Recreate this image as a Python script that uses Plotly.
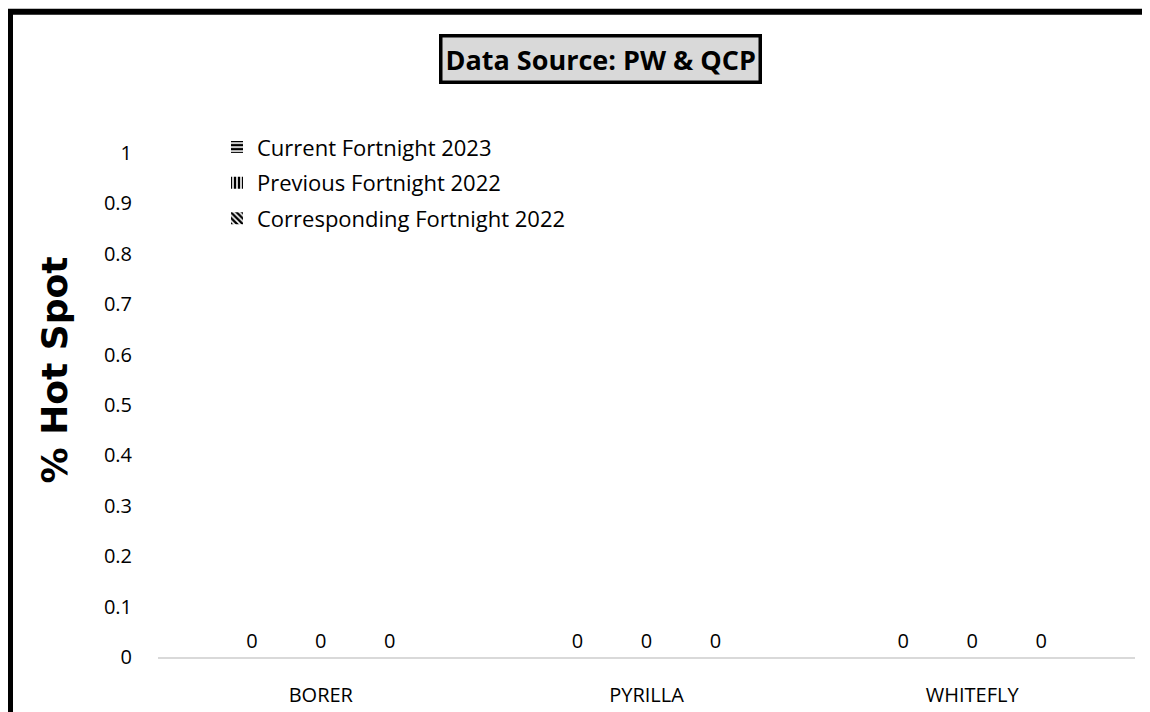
import plotly.graph_objects as go

categories = ["BORER", "PYRILLA", "WHITEFLY"]
current_2023 = [0, 0, 0]
previous_2022 = [0, 0, 0]
corresponding_2022 = [0, 0, 0]
series_names = ["Current Fortnight 2023", "Previous Fortnight 2022", "Corresponding Fortnight 2022"]
tick_vals = [0, 0.1, 0.2, 0.3, 0.4, 0.5, 0.6, 0.7, 0.8, 0.9, 1]
tick_text = ["0", "0.1", "0.2", "0.3", "0.4", "0.5", "0.6", "0.7", "0.8", "0.9", "1"]

FONT = "Open Sans"
FS = 20
# plot area in figure pixels
L, R, T, B = 150, 1127, 145, 655
W, H = R - L, B - T

patterns = ["-", "|", "\\"]
fig = go.Figure()
for i, (name, vals, pat) in enumerate(zip(series_names, [current_2023, previous_2022, corresponding_2022], patterns)):
    fig.add_trace(go.Bar(
        x=categories, y=vals, name=name, legendgroup=f"g{i}",
        text=[str(v) for v in vals], textposition="outside",
        textfont=dict(family=FONT, size=FS, color="#000000"),
        cliponaxis=False,
        marker=dict(color="white", line=dict(color="black", width=0),
                    pattern=dict(shape=pat, fgcolor="black", bgcolor="white", size=5,
                                 solidity=0.6, fgopacity=1)),
    ))

fig.update_layout(
    width=1150, height=712,
    paper_bgcolor="white", plot_bgcolor="white",
    barmode="group", bargap=0.365, bargroupgap=0,
    margin=dict(l=L, r=1150 - R, t=T, b=712 - B),
    font=dict(family=FONT, size=FS, color="#000000"),
    showlegend=True,
    legend=dict(x=(209 - L) / W, y=(B - 118) / H, xanchor="left", yanchor="top",
                bgcolor="rgba(0,0,0,0)", font=dict(family=FONT, size=22),
                itemwidth=30, tracegroupgap=4, traceorder="grouped"),
    xaxis=dict(showgrid=False, showline=True, linecolor="#d9d9d9", linewidth=1.5,
               ticks="", tickfont=dict(family=FONT, size=FS), zeroline=False,
               ticklabelstandoff=19),
    yaxis=dict(range=[0, 1], tickvals=tick_vals, ticktext=tick_text, showgrid=False,
               showline=False, zeroline=False, ticks="", ticklabelstandoff=25,
               tickfont=dict(family=FONT, size=FS)),
    shapes=[dict(type="rect", xref="paper", yref="paper",
                 x0=(2 - L) / W, x1=1.2, y0=-0.3, y1=(B - 2) / H,
                 line=dict(color="black", width=6), fillcolor="rgba(0,0,0,0)")],
    annotations=[
        dict(text="<b>Data Source: PW & QCP</b>", xref="paper", yref="paper",
             x=(592 - L) / W, y=(B - 50) / H, xanchor="center", yanchor="middle",
             showarrow=False, font=dict(family=FONT, size=27, color="black"),
             bgcolor="#d9d9d9", bordercolor="black", borderwidth=3.5, borderpad=3),
        dict(text="<b>% Hot Spot</b>", xref="paper", yref="paper",
             x=(46 - L) / W, y=(B - 365) / H, xanchor="center", yanchor="middle",
             textangle=-90, showarrow=False,
             font=dict(family="DejaVu Sans", size=36, color="black")),
    ],
)

fig.write_html("out.html")
